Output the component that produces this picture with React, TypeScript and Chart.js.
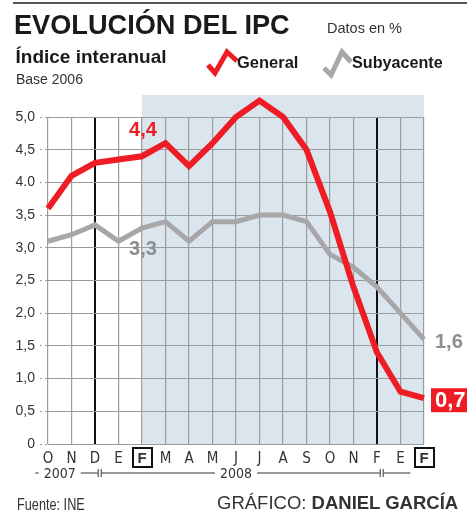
import React, { useEffect, useRef } from 'react';
import { Chart, registerables } from 'chart.js';

Chart.register(...registerables);

// ---------- data ----------
const months = ['O', 'N', 'D', 'E', 'F', 'M', 'A', 'M', 'J', 'J', 'A', 'S', 'O', 'N', 'F', 'E', 'F'];
const generalValues = [3.6, 4.1, 4.3, 4.35, 4.4, 4.6, 4.25, 4.6, 5.0, 5.25, 5.0, 4.5, 3.55, 2.4, 1.4, 0.8, 0.7];
const subyacenteValues = [3.1, 3.2, 3.35, 3.1, 3.3, 3.4, 3.1, 3.4, 3.4, 3.5, 3.5, 3.4, 2.9, 2.7, 2.4, 2.0, 1.6];
const yTickLabels = ['0', '0,5', '1,0', '1,5', '2,0', '2,5', '3,0', '3,5', '4.0', '4,5', '5,0'];
const boxedMonths = [4, 16];
const darkMonths = [2, 14];
const yearLabels = ['2007', '2008'];

// ---------- style ----------
const RED = '#ee1c25';
const GRAY = '#a7a7a9';
const LABEL_GRAY = '#8e8e90';
const TEXT = '#333333';
const SANS = "'Liberation Sans', Arial, sans-serif";
const NARROW = "'Liberation Sans Narrow', 'DejaVu Sans Condensed', 'Liberation Sans', sans-serif";

const fmt = (v: number) => String(v).replace('.', ',');

const decorPlugin = {
  id: 'decor',
  beforeDraw(chart: any) {
    const { ctx, chartArea, scales } = chart;
    const x = scales.x;
    const left = x.getPixelForTick(boxedMonths[0]);
    const right = x.getPixelForTick(months.length - 1);
    ctx.save();
    ctx.fillStyle = '#dae5ed';
    ctx.fillRect(left, chartArea.top - 22, right - left, chartArea.bottom - chartArea.top + 22);
    ctx.restore();
  },
  afterDraw(chart: any) {
    const { ctx, chartArea, scales } = chart;
    const x = scales.x;
    const y = scales.y;
    const x0 = x.getPixelForTick(0);
    const x1 = x.getPixelForTick(months.length - 1);
    const px = (v: number) => x0 + (v * (x1 - x0)) / (months.length - 1);
    const bottom = chartArea.bottom;

    ctx.save();
    // boxes around boxed month labels
    ctx.strokeStyle = '#111';
    ctx.lineWidth = 2;
    for (const i of boxedMonths) {
      const cx = x.getPixelForTick(i) + 0.5;
      ctx.strokeRect(cx - 9.5, bottom + 4, 19, 19);
    }

    // year line
    const ly = bottom + 29;
    ctx.strokeStyle = TEXT;
    ctx.lineWidth = 1;
    ctx.font = `14px ${NARROW}`;
    ctx.fillStyle = TEXT;
    ctx.textAlign = 'center';
    ctx.textBaseline = 'middle';
    const sep1 = px(darkMonths[0] + 0.2);
    const sep2 = px(darkMonths[1] + 0.2);
    const segs = [
      { a: px(-0.54), b: sep1 - 2, label: yearLabels[0], at: px(0.5) },
      { a: sep1 + 2, b: sep2 - 2, label: yearLabels[1], at: px(8) },
      { a: sep2 + 2, b: px(15.42), label: '', at: 0 },
    ];
    for (const s of segs) {
      ctx.beginPath();
      if (s.label) {
        const half = ctx.measureText(s.label).width / 2 + 5;
        ctx.moveTo(s.a, ly);
        ctx.lineTo(s.at - half, ly);
        ctx.moveTo(s.at + half, ly);
        ctx.lineTo(s.b, ly);
        ctx.fillText(s.label, s.at, ly + 1);
      } else {
        ctx.moveTo(s.a, ly);
        ctx.lineTo(s.b, ly);
      }
      ctx.stroke();
    }
    for (const s of [sep1, sep2]) {
      ctx.beginPath();
      ctx.moveTo(s - 1.5, ly - 4);
      ctx.lineTo(s - 1.5, ly + 4);
      ctx.moveTo(s + 1.5, ly - 4);
      ctx.lineTo(s + 1.5, ly + 4);
      ctx.stroke();
    }

    // value labels
    const iF = boxedMonths[0];
    const iL = months.length - 1;
    ctx.font = `bold 20px ${SANS}`;
    ctx.fillStyle = RED;
    ctx.textAlign = 'center';
    ctx.fillText(fmt(generalValues[iF]), x.getPixelForTick(iF) + 1, y.getPixelForValue(generalValues[iF]) - 26);
    ctx.fillStyle = LABEL_GRAY;
    ctx.fillText(fmt(subyacenteValues[iF]), x.getPixelForTick(iF) + 1, y.getPixelForValue(subyacenteValues[iF]) + 21);
    ctx.textAlign = 'left';
    ctx.fillText(fmt(subyacenteValues[iL]), x.getPixelForTick(iL) + 11, y.getPixelForValue(subyacenteValues[iL]) + 3);

    const gx = x.getPixelForTick(iL);
    const gy = y.getPixelForValue(generalValues[iL]);
    ctx.fillStyle = RED;
    ctx.fillRect(gx + 7, gy - 10, 60, 24);
    ctx.fillStyle = '#fff';
    ctx.font = `bold 22px ${SANS}`;
    ctx.fillText(fmt(generalValues[iL]), gx + 11, gy + 2.5);
    ctx.restore();
  },
};

export default function App() {
  const ref = useRef<HTMLCanvasElement>(null);

  useEffect(() => {
    document.body.style.margin = '0';
    const canvas = ref.current;
    if (!canvas) return;
    const chart = new Chart(canvas, {
      type: 'line',
      data: {
        labels: months,
        datasets: [
          {
            label: 'General',
            data: generalValues,
            borderColor: RED,
            borderWidth: 6,
            pointRadius: 0,
            tension: 0,
            clip: false,
            borderJoinStyle: 'miter',
          },
          {
            label: 'Subyacente',
            data: subyacenteValues,
            borderColor: GRAY,
            borderWidth: 5,
            pointRadius: 0,
            tension: 0,
            clip: false,
            borderJoinStyle: 'miter',
          },
        ],
      },
      options: {
        animation: false,
        responsive: false,
        maintainAspectRatio: false,
        layout: { padding: { top: 117, right: 43, left: 0, bottom: 0 } },
        plugins: { legend: { display: false }, tooltip: { enabled: false }, title: { display: false } },
        scales: {
          x: {
            type: 'category',
            offset: false,
            border: { display: false },
            grid: {
              drawTicks: false,
              color: (c: any) => (darkMonths.includes(c.index) ? '#111' : '#9c9c9c'),
              lineWidth: (c: any) => (darkMonths.includes(c.index) ? 2 : 1.2),
            },
            ticks: {
              autoSkip: false,
              maxRotation: 0,
              padding: 6,
              color: TEXT,
              font: (c: any) =>
                boxedMonths.includes(c.index)
                  ? { family: SANS, size: 15, weight: 'bold' }
                  : { family: NARROW, size: 15 },
            },
            afterFit: (s: any) => {
              s.height = 70;
            },
          },
          y: {
            min: 0,
            max: 5,
            border: { display: false },
            grid: {
              color: '#9c9c9c',
              lineWidth: 1,
              borderDash: [2, 3],
              drawTicks: true,
              tickLength: 8,
              tickColor: '#9c9c9c',
              tickBorderDash: [2, 3],
            },
            ticks: {
              stepSize: 0.5,
              padding: 5,
              color: TEXT,
              font: { family: SANS, size: 14 },
              callback: (_v: any, i: number) => yTickLabels[i],
            },
            afterFit: (s: any) => {
              s.width = 48;
            },
          },
        },
      },
      plugins: [decorPlugin],
    } as any);
    return () => chart.destroy();
  }, []);

  const abs = (o: any) => ({ position: 'absolute', whiteSpace: 'nowrap', lineHeight: 1, margin: 0, ...o });

  return (
    <div style={{ position: 'fixed', left: 0, top: 0, width: 467, height: 514, background: '#fff', overflow: 'hidden' }}>
      <canvas ref={ref} width={467} height={514} style={{ position: 'absolute', left: 0, top: 0, width: 467, height: 514 }} />
      <div style={abs({ left: 13, top: 2, width: 454, height: 1.5, background: '#555' })} />
      <div style={abs({ left: 14, top: 11, fontFamily: SANS, fontWeight: 'bold', fontSize: 28, color: '#1a1a1a', transform: 'scaleX(0.97)', transformOrigin: 'left top' })}>
        EVOLUCIÓN DEL IPC
      </div>
      <div style={abs({ left: 327, top: 21, fontFamily: SANS, fontSize: 14.5, color: TEXT })}>Datos en %</div>
      <div style={abs({ left: 15.5, top: 47, fontFamily: SANS, fontWeight: 'bold', fontSize: 19, color: '#1a1a1a' })}>
        Índice interanual
      </div>
      <div style={abs({ left: 16, top: 71.5, fontFamily: SANS, fontSize: 14, color: TEXT })}>Base 2006</div>
      <svg width={467} height={514} style={{ position: 'absolute', left: 0, top: 0 }}>
        <polyline points="208,65 215,73 227,52 237,61" fill="none" stroke={RED} strokeWidth={5} strokeLinejoin="miter" />
        <polyline points="324,68 331,75 342,52 351,62" fill="none" stroke={GRAY} strokeWidth={5} strokeLinejoin="miter" />
      </svg>
      <div style={abs({ left: 237, top: 54, fontFamily: SANS, fontWeight: 'bold', fontSize: 17, color: '#1a1a1a', transform: 'scaleX(0.97)', transformOrigin: 'left top' })}>General</div>
      <div style={abs({ left: 352, top: 54, fontFamily: SANS, fontWeight: 'bold', fontSize: 17, color: '#1a1a1a', transform: 'scaleX(0.95)', transformOrigin: 'left top' })}>Subyacente</div>
      <div style={abs({ left: 17, top: 496, fontFamily: SANS, fontSize: 16.5, color: TEXT, transform: 'scaleX(0.77)', transformOrigin: 'left top' })}>
        Fuente: INE
      </div>
      <div style={abs({ left: 217, top: 494.3, fontFamily: SANS, fontSize: 18.5, color: TEXT })}>
        GRÁFICO: <b>DANIEL GARCÍA</b>
      </div>
    </div>
  );
}
